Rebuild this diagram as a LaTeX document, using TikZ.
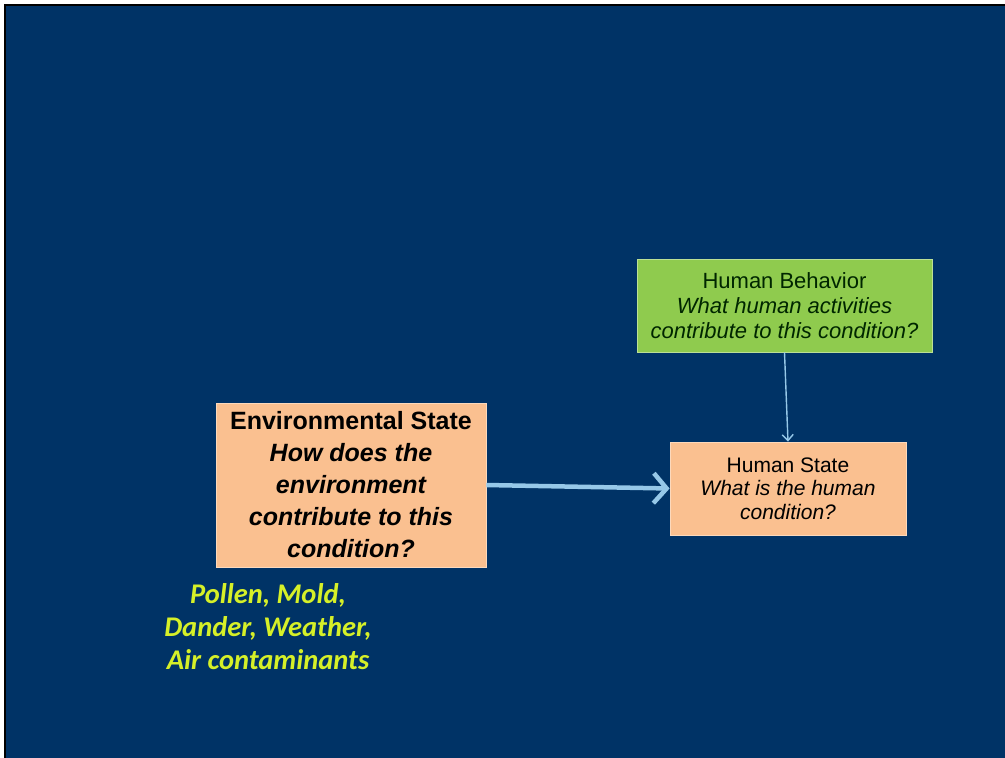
\documentclass[tikz,border=0pt]{standalone}
\usepackage{fontspec}
\setmainfont{Liberation Sans}
\newfontfamily\notefont{Carlito}
\usetikzlibrary{positioning,arrows.meta}

\definecolor{slidebg}{RGB}{0,51,102}
\definecolor{peach}{RGB}{250,192,144}
\definecolor{leafgreen}{RGB}{143,203,78}
\definecolor{arrowblue}{RGB}{150,200,232}
\definecolor{noteyellow}{RGB}{214,240,40}

\begin{document}
\begin{tikzpicture}[x=1pt,y=-1pt,
    statebox/.style={rectangle, fill=peach, draw=peach!60!white, line width=0.8pt, text=black, align=center, inner sep=0pt},
    actbox/.style={rectangle, fill=leafgreen, draw=leafgreen!60!white, line width=0.8pt, text=black!85!green, align=center, inner sep=0pt},
    bigflow/.style={arrowblue, line width=4.5pt, -{Straight Barb[length=13pt,width=30pt]}},
    smallflow/.style={arrowblue, line width=1.4pt, -{Straight Barb[length=6pt,width=11pt]}}]
    \useasboundingbox (0,0) rectangle (1005,758);
    % Background
    \fill[white] (0,0) rectangle (1005,758);
    \fill[slidebg] (6,6) rectangle (1005,758);
    \draw[black, line width=2pt] (5,758) -- (5,5) -- (1005,5);

    % Nodes
    \node[actbox, minimum width=295, minimum height=93, font=\fontsize{22}{25}\selectfont] (behavior) at (784.5,305.5)
        {Human Behavior\\ \itshape What human activities\\ \itshape contribute to this condition?};
    \node[statebox, minimum width=270, minimum height=164, font=\bfseries\fontsize{25}{32}\selectfont] (env) at (351,485)
        {Environmental State\\ \itshape How does the\\ \itshape environment\\ \itshape contribute to this\\ \itshape condition?};
    \node[statebox, minimum width=236, minimum height=93, font=\fontsize{21}{23.5}\selectfont] (state) at (788,488.5)
        {Human State\\ \itshape What is the human\\ \itshape condition?};
    \node[text=noteyellow, align=center, font=\notefont\bfseries\itshape\fontsize{28.5}{33}\selectfont] (factors) at (268,627)
        {Pollen, Mold,\\ Dander, Weather,\\ Air contaminants};

    % Arrows
    \draw[bigflow] (env.east) -- (state.west);
    \draw[smallflow] (behavior.south) -- (state.north);
\end{tikzpicture}
\end{document}
